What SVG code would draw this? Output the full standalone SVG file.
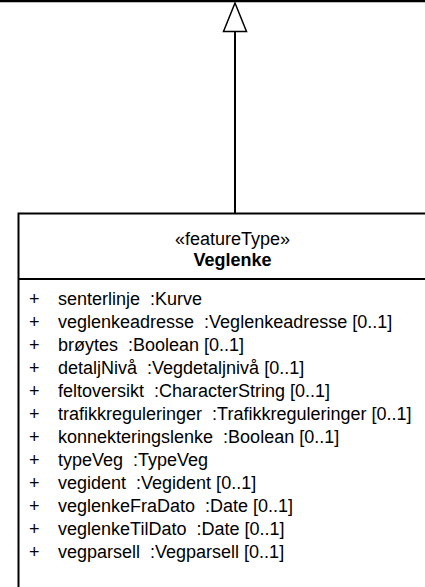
<svg xmlns="http://www.w3.org/2000/svg" width="425" height="587" viewBox="0 0 425 587">
<style>
text { font-family: "Liberation Sans", Arial, sans-serif; font-size: 18px; fill: #000; white-space: pre; }
.bold { font-weight: bold; }
.edge { stroke: #000; stroke-width: 2; fill: none; }
.box { stroke: #000; stroke-width: 2; fill: #fff; }
</style>
<defs>
<marker id="gen" viewBox="0 0 24 30" refX="12" refY="1" markerWidth="24" markerHeight="30" markerUnits="userSpaceOnUse" orient="auto-start-reverse">
<path d="M12,1 L23,29 L1,29 Z" fill="#fff" stroke="#000" stroke-width="1.5"/>
</marker>
</defs>
<g id="parent">
<line x1="0" y1="1" x2="425" y2="1" stroke="#000" stroke-width="2.5"/>
</g>
<g id="connectors">
<path class="edge" d="M235,213 L235,32"/>
<path d="M235,3 L246.5,31.5 L223.5,31.5 Z" fill="#fff" stroke="#000" stroke-width="1.5"/>
</g>
<g id="Veglenke">
<rect class="box" x="18.5" y="213.5" width="440" height="400"/>
<line x1="18.5" y1="279" x2="425" y2="279" stroke="#000" stroke-width="2"/>
<text x="232.5" y="245" text-anchor="middle">«featureType»</text>
<text x="232.5" y="266" text-anchor="middle" class="bold">Veglenke</text>
<g id="attributes">
<text x="29" y="305">+</text><text x="58" y="305">senterlinje  :Kurve</text>
<text x="29" y="328">+</text><text x="58" y="328">veglenkeadresse  :Veglenkeadresse [0..1]</text>
<text x="29" y="351">+</text><text x="58" y="351">brøytes  :Boolean [0..1]</text>
<text x="29" y="374">+</text><text x="58" y="374">detaljNivå  :Vegdetaljnivå [0..1]</text>
<text x="29" y="397">+</text><text x="58" y="397">feltoversikt  :CharacterString [0..1]</text>
<text x="29" y="420">+</text><text x="58" y="420">trafikkreguleringer  :Trafikkreguleringer [0..1]</text>
<text x="29" y="443">+</text><text x="58" y="443">konnekteringslenke  :Boolean [0..1]</text>
<text x="29" y="466">+</text><text x="58" y="466">typeVeg  :TypeVeg</text>
<text x="29" y="489">+</text><text x="58" y="489">vegident  :Vegident [0..1]</text>
<text x="29" y="512">+</text><text x="58" y="512">veglenkeFraDato  :Date [0..1]</text>
<text x="29" y="535">+</text><text x="58" y="535">veglenkeTilDato  :Date [0..1]</text>
<text x="29" y="558">+</text><text x="58" y="558">vegparsell  :Vegparsell [0..1]</text>
</g>
</g>
</svg>
